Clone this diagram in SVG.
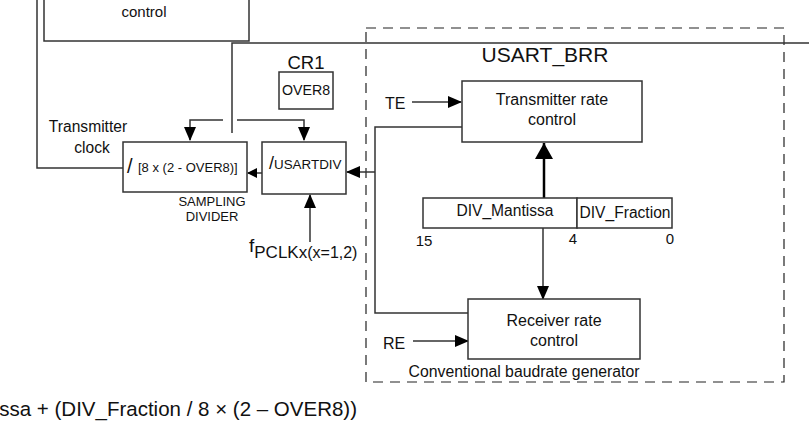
<svg xmlns="http://www.w3.org/2000/svg" width="809" height="421" viewBox="0 0 809 421">
<defs>
<marker id="ah" markerWidth="10" markerHeight="10" refX="9" refY="5" orient="auto" markerUnits="userSpaceOnUse" viewBox="0 0 10 10"><path d="M0,0 L10,5 L0,10 z" fill="#000"/></marker>
<marker id="ahs" markerWidth="14" markerHeight="14" refX="13" refY="7" orient="auto" markerUnits="userSpaceOnUse" viewBox="0 0 14 14"><path d="M0,1 L14,7 L0,13 z" fill="#000"/></marker>
<marker id="ahb" markerWidth="16" markerHeight="18" refX="16" refY="9" orient="auto" markerUnits="userSpaceOnUse" viewBox="0 0 16 18"><path d="M0,0 L16,9 L0,18 z" fill="#000"/></marker>
</defs>
<style>
.box{fill:#fff;stroke:#333;stroke-width:1.5}
.ln{fill:none;stroke:#333;stroke-width:1.5}
.t{font-family:"Liberation Sans",Arial,sans-serif;fill:#111}
</style>
<rect width="809" height="421" fill="#fff"/>
<g id="brr-frame">
<rect x="366" y="28" width="418" height="354" fill="none" stroke="#222" stroke-width="1.2" stroke-dasharray="10,7"/>
<text class="t" x="545" y="62" font-size="21" text-anchor="middle">USART_BRR</text>
<text class="t" x="524" y="377" font-size="15.8" text-anchor="middle">Conventional baudrate generator</text>
</g>
<g id="connectors">
<path class="ln" d="M37,0 V168 H123"/>
<path class="ln" d="M232,133 V43 H809"/>
<path class="ln" d="M223,120 H190 V140" marker-end="url(#ahs)"/>
<path class="ln" d="M237,120 H304 V140" marker-end="url(#ahs)"/>
<path class="ln" d="M262,173 H248" marker-end="url(#ah)"/>
<path class="ln" d="M462,127 H375 V313 H468"/>
<path class="ln" d="M375,172 H347" marker-end="url(#ahs)"/>
<path class="ln" d="M310,242 V195" marker-end="url(#ahs)"/>
<path d="M544,198 V143" fill="none" stroke="#000" stroke-width="2.5" marker-end="url(#ahb)"/>
<path class="ln" d="M543,228 V299" marker-end="url(#ahs)"/>
<path class="ln" d="M412,102 H461" marker-end="url(#ahs)"/>
<path class="ln" d="M413,341 H468" marker-end="url(#ahs)"/>
</g>
<g id="top-control">
<rect class="box" x="44" y="-10" width="205" height="51"/>
<text class="t" x="144" y="17" font-size="15" text-anchor="middle">control</text>
</g>
<g id="cr1">
<text class="t" x="306" y="69" font-size="18.5" text-anchor="middle">CR1</text>
<rect class="box" x="279" y="72" width="54" height="37"/>
<text class="t" x="306" y="95" font-size="14.2" text-anchor="middle">OVER8</text>
</g>
<g id="tx-clock-label">
<text class="t" x="88" y="132" font-size="15.6" text-anchor="middle">Transmitter</text>
<text class="t" x="92" y="153" font-size="15.6" text-anchor="middle">clock</text>
</g>
<g id="sampling-divider">
<rect class="box" x="123" y="142" width="124" height="50"/>
<text class="t" x="127" y="173" font-size="20">/</text>
<text class="t" x="138" y="172" font-size="13">[8 x (2 - OVER8)]</text>
<text class="t" x="212" y="206" font-size="13" text-anchor="middle">SAMPLING</text>
<text class="t" x="212" y="221" font-size="13" text-anchor="middle">DIVIDER</text>
</g>
<g id="usartdiv">
<rect class="box" x="262" y="142" width="84" height="52"/>
<text class="t" x="269" y="169" font-size="18">/<tspan font-size="13.4">USARTDIV</tspan></text>
</g>
<g id="fpclk">
<text class="t" x="249" y="252" font-size="19">f<tspan font-size="17" dy="6">PCLKx</tspan><tspan font-size="16">(x=1,2)</tspan></text>
</g>
<g id="tx-rate">
<rect class="box" x="462" y="81" width="180" height="61"/>
<text class="t" x="552" y="105" font-size="16" text-anchor="middle">Transmitter rate</text>
<text class="t" x="552" y="125" font-size="16" text-anchor="middle">control</text>
<text class="t" x="385" y="109" font-size="16">TE</text>
</g>
<g id="div-register">
<rect class="box" x="423" y="198" width="154" height="30"/>
<rect class="box" x="577" y="198" width="95" height="30"/>
<text class="t" x="505" y="216" font-size="15.6" text-anchor="middle">DIV_Mantissa</text>
<text class="t" x="625" y="218" font-size="15.6" text-anchor="middle">DIV_Fraction</text>
<text class="t" x="424" y="246" font-size="15" text-anchor="middle">15</text>
<text class="t" x="573" y="244" font-size="15" text-anchor="middle">4</text>
<text class="t" x="670" y="244" font-size="15" text-anchor="middle">0</text>
</g>
<g id="rx-rate">
<rect class="box" x="468" y="299" width="172" height="60"/>
<text class="t" x="554" y="326" font-size="16" text-anchor="middle">Receiver rate</text>
<text class="t" x="554" y="346" font-size="16" text-anchor="middle">control</text>
<text class="t" x="383" y="349" font-size="16">RE</text>
</g>
<g id="formula">
<text class="t" x="357" y="416" font-size="20.5" text-anchor="end">ssa + (DIV_Fraction / 8 × (2 – OVER8))</text>
</g>
</svg>
